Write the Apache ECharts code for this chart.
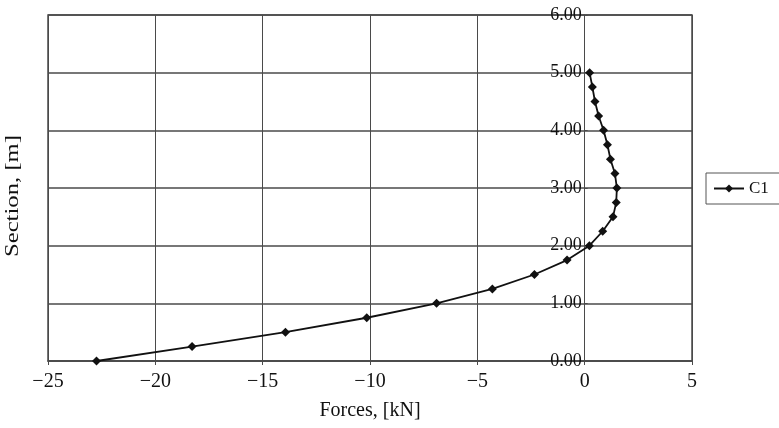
<!DOCTYPE html>
<html>
<head>
<meta charset="utf-8">
<script src="https://cdn.jsdelivr.net/npm/echarts@6/dist/echarts.min.js"></script>
<style>
  html, body { margin: 0; padding: 0; background: #fff; }
  #main { width: 779px; height: 428px; }
</style>
</head>
<body>
<div id="main"></div>
<script>
// Section heights [m]
let sections = [0, 0.25, 0.5, 0.75, 1.0, 1.25, 1.5, 1.75, 2.0, 2.25, 2.5,
    2.75, 3.0, 3.25, 3.5, 3.75, 4.0, 4.25, 4.5, 4.75, 5.0];
// Forces [kN] for series C1
let forcesC1 = [-22.74, -18.29, -13.94, -10.15, -6.9, -4.3, -2.34, -0.82, 0.22, 0.84, 1.32,
    1.47, 1.5, 1.41, 1.2, 1.06, 0.88, 0.65, 0.48, 0.36, 0.23];

let serif = '"Liberation Serif", "Times New Roman", serif';
let gridColor = '#4a4a4a';

let points = forcesC1.map((v, i) => [v, sections[i]]);

let gridLeft = 48, gridRight = 87;
// put the y axis (and its labels) on x = 0
let plotWidth = 779 - gridLeft - gridRight;
let yOffset = -plotWidth * 25 / 30;

let myChart = echarts.init(document.getElementById('main'));

let option = {
    animation: false,
    backgroundColor: '#fff',
    grid: {
        left: gridLeft,
        right: gridRight,
        top: 15,
        bottom: 67,
        show: true,
        borderColor: gridColor,
        borderWidth: 1.5
    },
    legend: {
        data: ['C1'],
        left: 706,
        top: 173,
        orient: 'vertical',
        borderColor: '#555',
        borderWidth: 1,
        padding: [7, 20, 7, 7],
        itemWidth: 30,
        itemHeight: 10,
        textStyle: { fontFamily: serif, fontSize: 17, color: '#111' }
    },
    graphic: [{
        type: 'text',
        x: 13,
        y: 196,
        rotation: Math.PI / 2,
        scaleX: 1.3,
        style: {
            text: 'Section, [m]',
            font: '19px ' + serif,
            fill: '#111',
            align: 'center',
            verticalAlign: 'middle'
        }
    }],
    xAxis: {
        type: 'value',
        min: -25,
        max: 5,
        interval: 5,
        name: 'Forces, [kN]',
        nameLocation: 'middle',
        nameGap: 40,
        nameTextStyle: { fontFamily: serif, fontSize: 20, color: '#111' },
        axisLine: { onZero: false, lineStyle: { color: gridColor, width: 1.5 } },
        axisTick: { show: true, length: 4, lineStyle: { color: gridColor } },
        axisLabel: {
            fontFamily: serif,
            fontSize: 20,
            color: '#111',
            margin: 11,
            formatter: v => String(v).replace('-', '\u2212')
        },
        splitLine: { show: true, lineStyle: { color: gridColor, width: 1 } }
    },
    yAxis: {
        type: 'value',
        min: 0,
        max: 6,
        interval: 1,
        offset: yOffset,
        axisLine: { onZero: false, lineStyle: { color: gridColor, width: 1 } },
        axisTick: { show: true, length: 3, inside: true, lineStyle: { color: gridColor } },
        axisLabel: {
            fontFamily: serif,
            fontSize: 18,
            color: '#111',
            margin: 3,
            formatter: v => v.toFixed(2)
        },
        splitLine: { show: true, lineStyle: { color: gridColor, width: 1.5 } }
    },
    series: [{
        name: 'C1',
        type: 'line',
        data: points,
        symbol: 'diamond',
        symbolSize: 9,
        showAllSymbol: true,
        itemStyle: { color: '#111' },
        lineStyle: { color: '#111', width: 1.8 }
    }]
};

myChart.setOption(option);
</script>
</body>
</html>
